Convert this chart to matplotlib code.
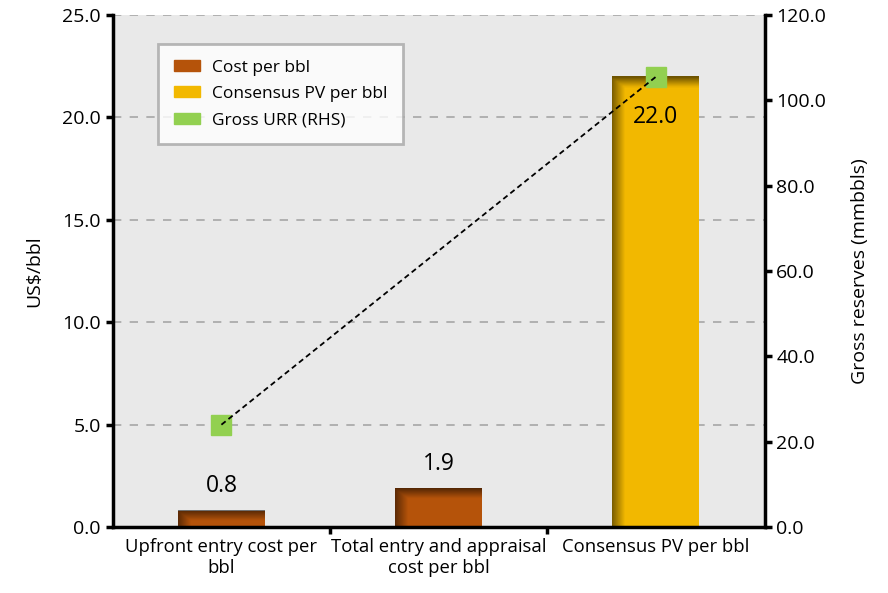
import numpy as np
import matplotlib.pyplot as plt
from matplotlib.patches import Patch

plt.rcParams['font.family'] = ['Open Sans', 'DejaVu Sans']

categories = ["Upfront entry cost per\nbbl", "Total entry and appraisal\ncost per bbl", "Consensus PV per bbl"]
bar_values = [0.8, 1.9, 22.0]
bar_colors = ["#b5530a", "#b5530a", "#f2b800"]
urr_x = [0, 2]
urr_values = [24.0, 105.5]

fig = plt.figure(figsize=(8.88, 5.93), dpi=100)
ax = fig.add_axes([0.127, 0.111, 0.734, 0.864])
ax.set_facecolor("#e9e9e9")

x = np.arange(len(categories))
width = 0.4
bars = ax.bar(x, bar_values, width, color=bar_colors, zorder=2)

# soft shadow along the top and left edge of each bar
for b in bars:
    x0, y0 = b.get_x(), b.get_y()
    w, h = b.get_width(), b.get_height()
    n = 200
    gx = np.linspace(0, 1, n)
    fade_x = np.clip(1 - gx * w / 0.06, 0, 1)
    gy = np.linspace(0, 1, n)
    fade_y = np.clip(1 - (1 - gy) * h / 0.5, 0, 1)
    alpha = np.maximum(fade_x[None, :] * 0.5, fade_y[:, None] * 0.55)
    img = np.zeros((n, n, 4))
    img[..., 3] = alpha
    ax.imshow(img, extent=[x0, x0 + w, y0, y0 + h], origin="lower",
              aspect="auto", zorder=2.5, interpolation="bilinear")

for xi, v in zip(x, bar_values):
    if v > 20:
        # label sits inside the top of the tall bar
        ax.text(xi, v - 2.0, f"{v:.1f}", ha="center", va="center", fontsize=16.5, zorder=4)
    else:
        ax.text(xi, v + 0.6, f"{v:.1f}", ha="center", va="bottom", fontsize=16.5, zorder=4)

ax.set_xlim(-0.5, 2.5)
ax.set_ylim(0, 25)
ax.set_yticks(np.arange(0, 26, 5))
ax.set_yticklabels([f"{t:.1f}" for t in np.arange(0, 26, 5)], fontsize=14)
ax.set_xticks(x)
ax.set_xticklabels(categories, fontsize=13.3)
ax.set_xticks([0.5, 1.5], minor=True)
ax.tick_params(axis="x", which="major", length=0, pad=8)
ax.tick_params(axis="x", which="minor", length=5, width=2.5, direction="out")
ax.tick_params(axis="y", length=5, width=2.5, direction="out")
ax.set_ylabel("US$/bbl", fontsize=14, labelpad=14)
ax.yaxis.grid(True, linestyle=(0, (5, 5)), color="#a6a6a6", linewidth=1.2, zorder=1)
ax.set_axisbelow(True)
for s in ["top", "right"]:
    ax.spines[s].set_visible(False)
ax.spines["left"].set_linewidth(2.5)
ax.spines["bottom"].set_linewidth(2.5)

ax2 = ax.twinx()
ax2.set_ylim(0, 120)
ax2.set_yticks(np.arange(0, 121, 20))
ax2.set_yticklabels([f"{t:.1f}" for t in np.arange(0, 121, 20)], fontsize=14)
ax2.tick_params(axis="y", length=5, width=2.5, direction="out")
ax2.set_ylabel("Gross reserves (mmbbls)", fontsize=14, labelpad=18)
for s in ["top", "left", "bottom"]:
    ax2.spines[s].set_visible(False)
ax2.spines["right"].set_linewidth(2.5)
ax2.plot(urr_x, urr_values, linestyle=(0, (3, 2)), color="black", linewidth=1.3, zorder=3)
ax2.plot(urr_x, urr_values, linestyle="none", marker="s", markersize=14,
         color="#92d050", zorder=2)

handles = [Patch(color="#b5530a", label="Cost per bbl"),
           Patch(color="#f2b800", label="Consensus PV per bbl"),
           Patch(color="#92d050", label="Gross URR (RHS)")]
leg = ax2.legend(handles=handles, loc="upper left", bbox_to_anchor=(0.056, 0.96),
                 fontsize=12.5, frameon=True, fancybox=False, borderpad=0.9,
                 handlelength=1.5, handleheight=0.6, labelspacing=0.6,
                 handletextpad=0.7)
leg.get_frame().set_edgecolor("#a6a6a6")
leg.get_frame().set_linewidth(2)

fig.savefig("out.png", dpi=100)
